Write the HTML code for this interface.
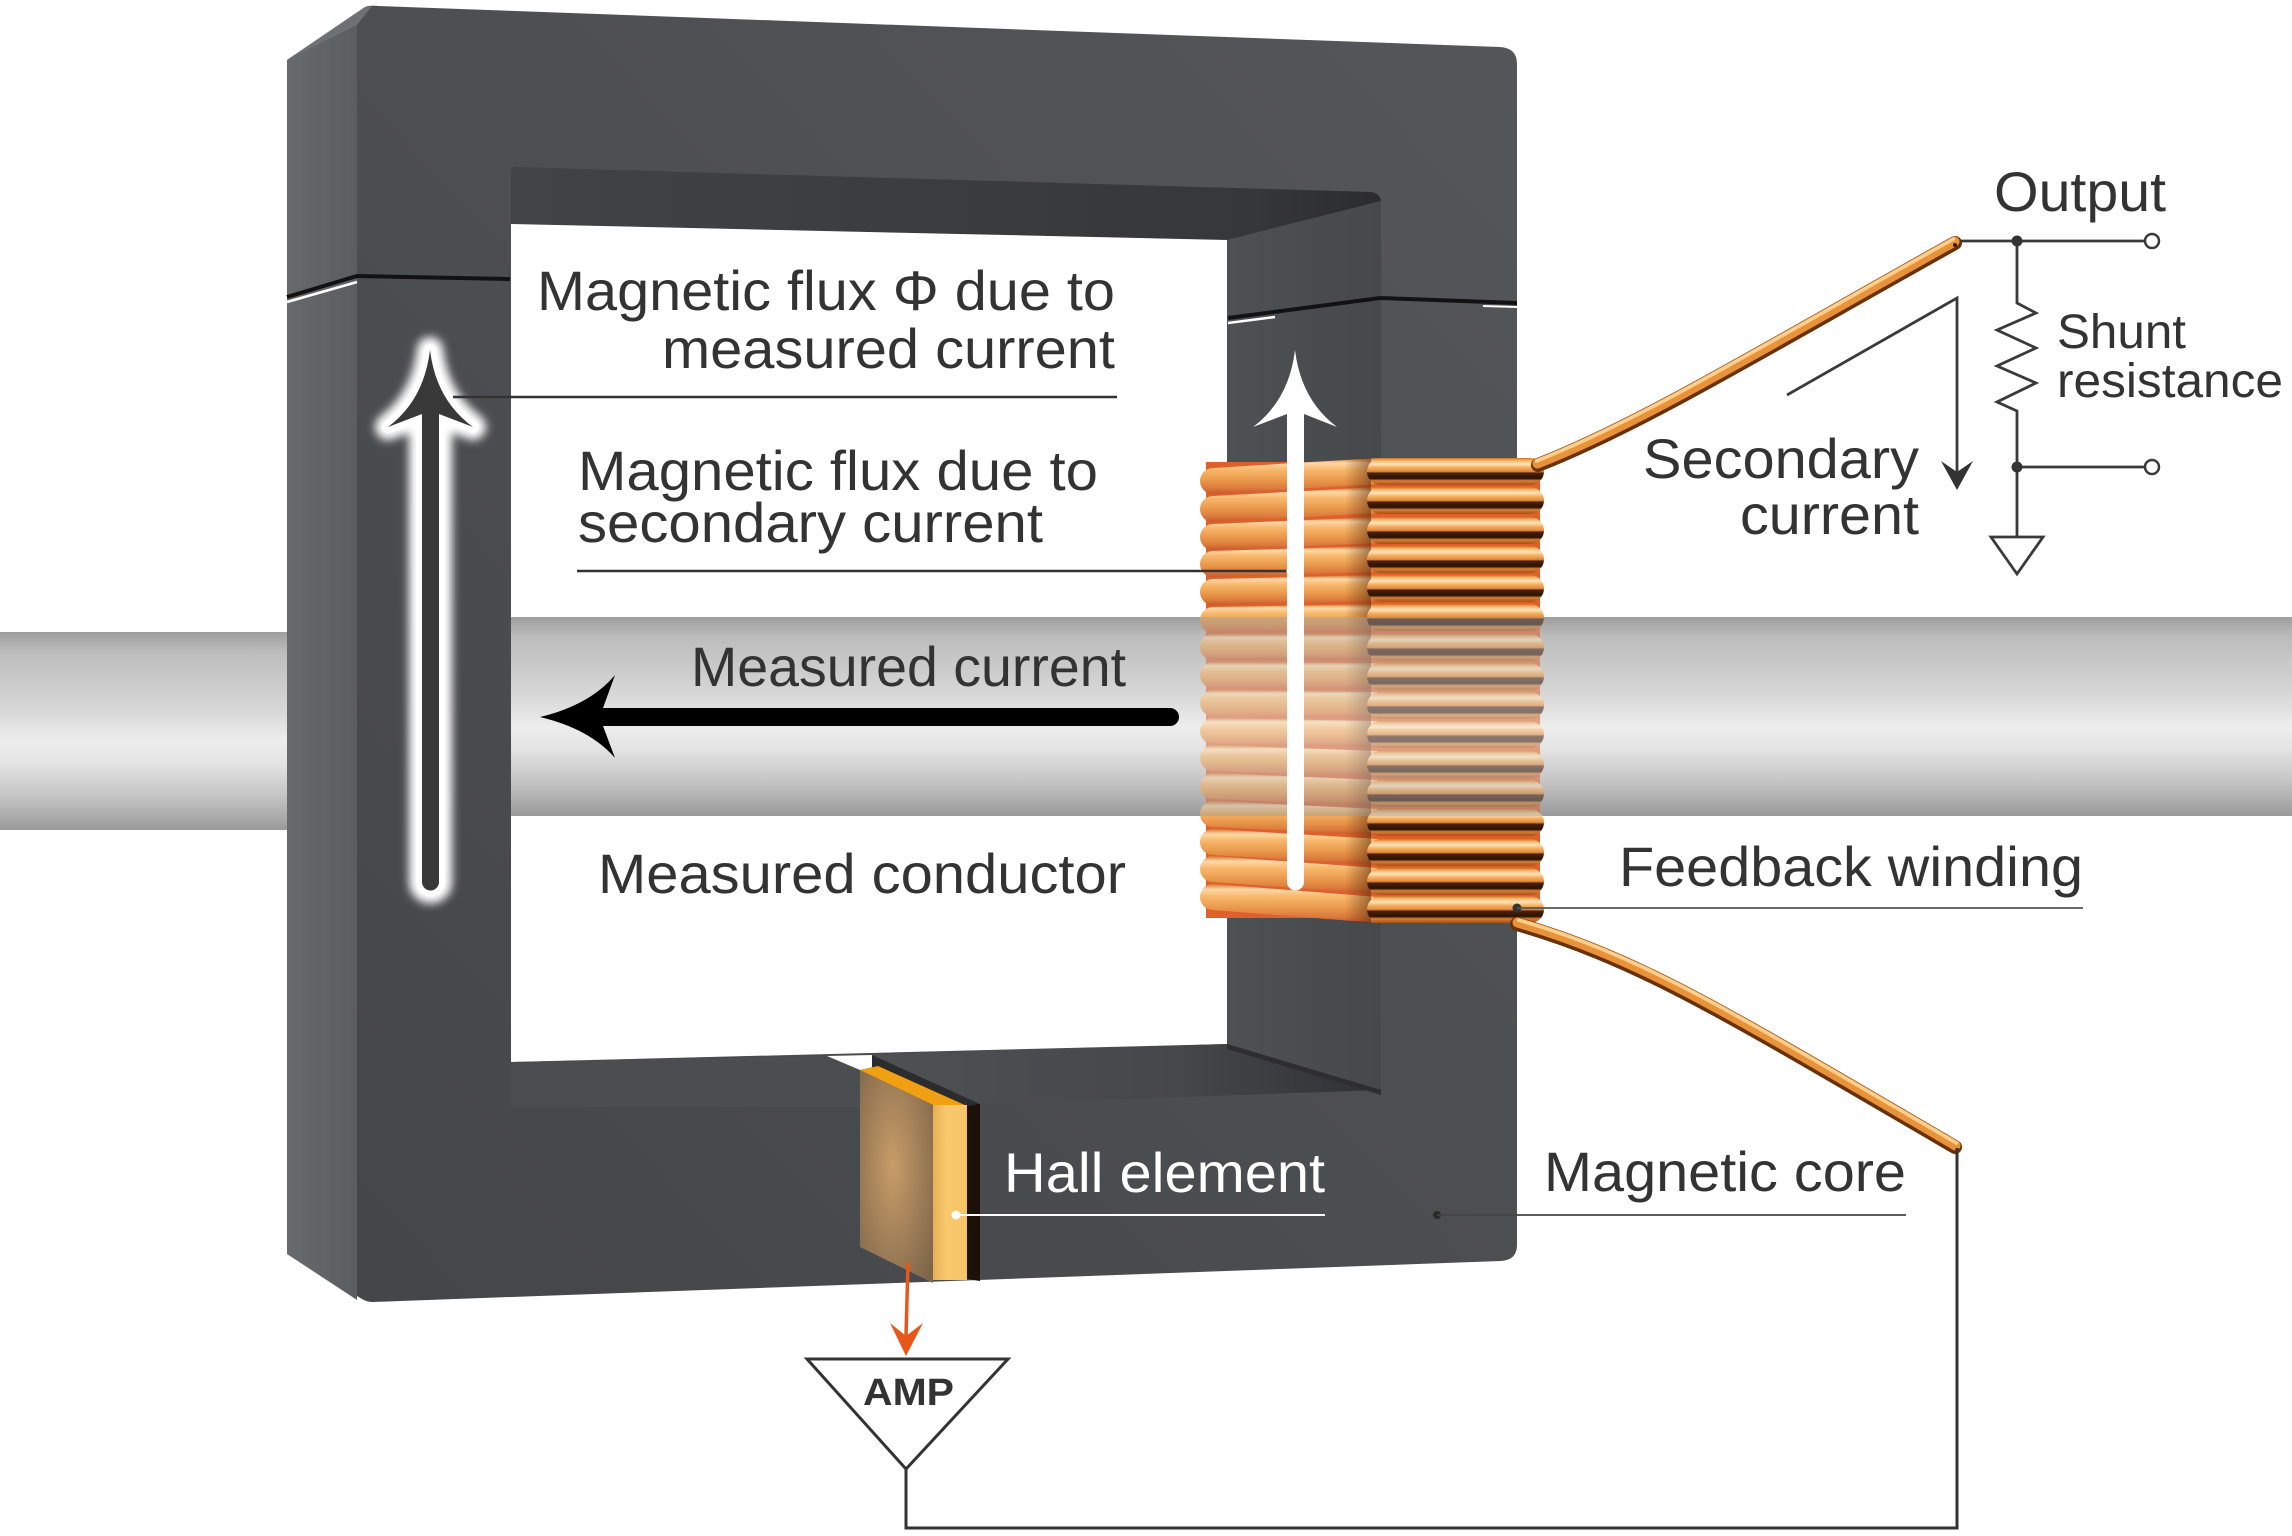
<!DOCTYPE html>
<html>
<head>
<meta charset="utf-8">
<style>
html,body{margin:0;padding:0;background:#fff;}
svg{display:block;}
text{font-family:"Liberation Sans",Arial,sans-serif;fill:#333;}
</style>
</head>
<body>
<svg width="2292" height="1536" viewBox="0 0 2292 1536" xmlns="http://www.w3.org/2000/svg">
<defs>
  <linearGradient id="gC" x1="0" y1="0" x2="0" y2="1">
    <stop offset="0" stop-color="#9e9e9e"/>
    <stop offset="0.1" stop-color="#bcbcbc"/>
    <stop offset="0.4" stop-color="#d8d8d8"/>
    <stop offset="0.55" stop-color="#ededed"/>
    <stop offset="0.66" stop-color="#e4e4e4"/>
    <stop offset="0.82" stop-color="#c6c6c6"/>
    <stop offset="1" stop-color="#9a9a9a"/>
  </linearGradient>
  <linearGradient id="gCore" x1="1" y1="0" x2="0" y2="1">
    <stop offset="0" stop-color="#54575a"/>
    <stop offset="1" stop-color="#434648"/>
  </linearGradient>
  <linearGradient id="gSide" x1="0" y1="0" x2="1" y2="0">
    <stop offset="0" stop-color="#666a6c"/>
    <stop offset="1" stop-color="#5a5e60"/>
  </linearGradient>
  <linearGradient id="gUnder" x1="0" y1="0" x2="1" y2="0">
    <stop offset="0" stop-color="#404446"/>
    <stop offset="0.85" stop-color="#35383a"/>
    <stop offset="1" stop-color="#2a2c2e"/>
  </linearGradient>
  <linearGradient id="gInner" x1="0" y1="0" x2="1" y2="0">
    <stop offset="0" stop-color="#4d5153"/>
    <stop offset="1" stop-color="#45494b"/>
  </linearGradient>
  <linearGradient id="gBot" x1="0" y1="0" x2="1" y2="0">
    <stop offset="0" stop-color="#4e5153"/>
    <stop offset="0.6" stop-color="#45484a"/>
    <stop offset="1" stop-color="#2f3234"/>
  </linearGradient>
  <linearGradient id="gR" x1="0" y1="0" x2="0" y2="1">
    <stop offset="0" stop-color="#cf7424"/>
    <stop offset="0.1" stop-color="#f8b86e"/>
    <stop offset="0.22" stop-color="#ffe4ba"/>
    <stop offset="0.36" stop-color="#f4ac5e"/>
    <stop offset="0.5" stop-color="#e48a3a"/>
    <stop offset="0.56" stop-color="#4a200a"/>
    <stop offset="0.76" stop-color="#2a1206"/>
    <stop offset="0.84" stop-color="#d88034"/>
    <stop offset="1" stop-color="#a84e14"/>
  </linearGradient>
  <linearGradient id="gL" x1="0" y1="0" x2="0" y2="1">
    <stop offset="0" stop-color="#d07a2a"/>
    <stop offset="0.14" stop-color="#ffd8a8"/>
    <stop offset="0.32" stop-color="#f8b86c"/>
    <stop offset="0.6" stop-color="#ea9a4c"/>
    <stop offset="0.84" stop-color="#dc7a3c"/>
    <stop offset="1" stop-color="#c8582a"/>
  </linearGradient>
  <linearGradient id="gJ" x1="0" y1="0" x2="1" y2="0">
    <stop offset="0" stop-color="#5a2a0a" stop-opacity="0"/>
    <stop offset="1" stop-color="#5a2a0a" stop-opacity="0.55"/>
  </linearGradient>
  <radialGradient id="gHall" cx="0.45" cy="0.45" r="0.7">
    <stop offset="0" stop-color="#c89c68"/>
    <stop offset="1" stop-color="#7e664a"/>
  </radialGradient>
  <linearGradient id="gHallSide" x1="0" y1="0" x2="1" y2="0">
    <stop offset="0" stop-color="#e8b055"/>
    <stop offset="0.4" stop-color="#f8c86e"/>
    <stop offset="1" stop-color="#f6c468"/>
  </linearGradient>
  <filter id="blur" x="-1" y="-1" width="3" height="3">
    <feGaussianBlur stdDeviation="4.5"/>
  </filter>
  <rect id="tr" x="1367" y="0" width="177" height="27" rx="13.5" fill="url(#gR)"/>
</defs>

<rect x="0" y="0" width="2292" height="1536" fill="#fff"/>

<!-- conductor left part -->
<rect x="0" y="632" width="290" height="198" fill="url(#gC)"/>

<!-- core silhouette -->
<path d="M287,60 L365,7 Q370,5 378,6 L1500,47 Q1517,48 1517,64 L1517,1245 Q1517,1260 1501,1261 L373,1302 Q367,1302 362,1299 L287,1254 Z" fill="url(#gCore)"/>
<path d="M287,60 L357,25 L357,1300 L287,1254 Z" fill="url(#gSide)"/>
<path d="M287,60 L365,7 L372,6 L357,25 Z" fill="#6d7173"/>

<!-- inner opening -->
<path d="M515,167 L1372,192 Q1380,194 1381,201 L1227,240 L511,224 L511,171 Q511,167 515,167 Z" fill="url(#gUnder)"/>
<path d="M1227,240 L1381,201 L1381,1090 L1227,1044 Z" fill="url(#gInner)"/>
<path d="M511,224 L1227,240 L1227,1044 L511,1062 Z" fill="#fff"/>
<path d="M511,1062 L827,1056 L860,1070 L860,1107 L511,1107 Z" fill="#4b4e50"/>
<path d="M872,1055 L1227,1044 L1381,1090 L980,1104 Z" fill="url(#gBot)"/>
<path d="M1227,1044 L1381,1090 L1381,1095 L1227,1049 Z" fill="#2c2e30"/>
<path d="M827,1056 L872,1055 L878,1066 L860,1070 Z" fill="#fff"/>
<path d="M872,1055 L980,1104 L980,1281 L872,1245 Z" fill="#2a2c2e"/>

<!-- gap lines -->
<path d="M287,297 L357,276 L510,279" stroke="#121212" stroke-width="4" fill="none"/>
<path d="M287,302 L357,282" stroke="#fff" stroke-width="2.5" fill="none"/>
<path d="M1228,318 L1380,298 L1517,303" stroke="#121212" stroke-width="4" fill="none"/>
<path d="M1228,323 L1275,317" stroke="#fff" stroke-width="2.5" fill="none"/>
<path d="M1483,306 L1517,307" stroke="#fff" stroke-width="2" fill="none"/>

<!-- conductor middle + right -->
<rect x="511" y="617" width="1781" height="199" fill="url(#gC)"/>

<!-- Hall element -->
<path d="M860,1070 L933,1105 L933,1283 L860,1247 Z" fill="url(#gHall)"/>
<path d="M860,1070 L878,1066 L967,1106 L933,1105 Z" fill="#f0a012"/>
<rect x="933" y="1105" width="34" height="175" fill="url(#gHallSide)"/>
<path d="M967,1106 L980,1104 L980,1281 L967,1279 Z" fill="#1c1108"/>

<!-- winding -->
<rect x="1206" y="462" width="334" height="456" fill="#e0602c"/>
<g fill="url(#gL)">
  <path d="M1378,458 L1213,468 A13,13 0 0 0 1213,494 L1378,484 Z"/>
  <path d="M1378,487 L1213,496 A13,13 0 0 0 1213,522 L1378,513 Z"/>
  <path d="M1378,517 L1213,524 A13,13 0 0 0 1213,550 L1378,543 Z"/>
  <path d="M1378,546 L1213,551 A13,13 0 0 0 1213,577 L1378,572 Z"/>
  <path d="M1378,575 L1213,579 A13,13 0 0 0 1213,605 L1378,601 Z"/>
  <path d="M1378,604 L1213,607 A13,13 0 0 0 1213,633 L1378,630 Z"/>
  <path d="M1378,634 L1213,634 A13,13 0 0 0 1213,660 L1378,660 Z"/>
  <path d="M1378,663 L1213,662 A13,13 0 0 0 1213,688 L1378,689 Z"/>
  <path d="M1378,692 L1213,690 A13,13 0 0 0 1213,716 L1378,718 Z"/>
  <path d="M1378,721 L1213,718 A13,13 0 0 0 1213,744 L1378,747 Z"/>
  <path d="M1378,751 L1213,745 A13,13 0 0 0 1213,771 L1378,777 Z"/>
  <path d="M1378,780 L1213,773 A13,13 0 0 0 1213,799 L1378,806 Z"/>
  <path d="M1378,809 L1213,801 A13,13 0 0 0 1213,827 L1378,835 Z"/>
  <path d="M1378,839 L1213,829 A13,13 0 0 0 1213,855 L1378,865 Z"/>
  <path d="M1378,868 L1213,856 A13,13 0 0 0 1213,882 L1378,894 Z"/>
  <path d="M1378,897 L1213,884 A13,13 0 0 0 1213,910 L1378,923 Z"/>
</g>
<rect x="1345" y="458" width="26" height="465" fill="url(#gJ)"/>
<use href="#tr" y="458"/>
<use href="#tr" y="487"/>
<use href="#tr" y="517"/>
<use href="#tr" y="546"/>
<use href="#tr" y="575"/>
<use href="#tr" y="604"/>
<use href="#tr" y="634"/>
<use href="#tr" y="663"/>
<use href="#tr" y="692"/>
<use href="#tr" y="721"/>
<use href="#tr" y="751"/>
<use href="#tr" y="780"/>
<use href="#tr" y="809"/>
<use href="#tr" y="839"/>
<use href="#tr" y="868"/>
<use href="#tr" y="896"/>
<rect x="1199" y="617" width="347" height="199" fill="url(#gC)" opacity="0.45"/>

<!-- wires -->
<g fill="none" stroke-linecap="round" stroke-linejoin="round">
  <path d="M1538,465 C1640,425 1760,352 1955,243" stroke="#6a3008" stroke-width="14"/>
  <path d="M1538,465 C1640,425 1760,352 1955,243" stroke="#e8923a" stroke-width="10" transform="translate(-0.5,-1.5)"/>
  <path d="M1538,465 C1640,425 1760,352 1955,243" stroke="#ffcf8e" stroke-width="3.5" transform="translate(-1.5,-4)"/>
  <path d="M1517,924 C1640,960 1720,1010 1955,1147" stroke="#6a3008" stroke-width="14"/>
  <path d="M1517,924 C1640,960 1720,1010 1955,1147" stroke="#e8923a" stroke-width="10" transform="translate(0.5,-1.5)"/>
  <path d="M1517,924 C1640,960 1720,1010 1955,1147" stroke="#ffcf8e" stroke-width="3.5" transform="translate(1.5,-4)"/>
</g>
<circle cx="1955" cy="245" r="2" fill="#3a1a08"/>

<!-- left flux arrow with glow -->
<g>
  <path d="M430,350 Q436,400 473,427 L439,414 L439,882 A8.5,8.5 0 0 1 422,882 L422,414 L388,427 Q424,400 430,350 Z" fill="#fff" stroke="#fff" stroke-width="26" stroke-linejoin="round" filter="url(#blur)"/>
  <path d="M430,350 Q436,400 473,427 L439,414 L439,882 A8.5,8.5 0 0 1 422,882 L422,414 L388,427 Q424,400 430,350 Z" fill="#fff" stroke="#fff" stroke-width="12" stroke-linejoin="round"/>
  <path d="M430,350 Q436,400 473,427 L439,414 L439,882 A8.5,8.5 0 0 1 422,882 L422,414 L388,427 Q424,400 430,350 Z" fill="#383838"/>
</g>

<!-- white secondary flux arrow -->
<path d="M1295,350 Q1301,400 1337,427 L1304,414 L1304,882 A8.5,8.5 0 0 1 1287,882 L1287,414 L1253,427 Q1289,400 1295,350 Z" fill="#fff"/>

<!-- measured current arrow -->
<path d="M540,717 Q590,705 615,675 L603,708 L1170,708 A9,9 0 0 1 1170,726 L603,726 L615,758 Q590,729 540,717 Z" fill="#000"/>

<!-- leader lines -->
<line x1="453" y1="397" x2="1117" y2="397" stroke="#333" stroke-width="2.5"/>
<line x1="577" y1="571" x2="1286" y2="571" stroke="#333" stroke-width="2.5"/>
<circle cx="1517" cy="908" r="4.5" fill="#333"/>
<line x1="1517" y1="908" x2="2083" y2="908" stroke="#555" stroke-width="1.8"/>
<circle cx="1437" cy="1215" r="4" fill="#2a2a2a"/>
<line x1="1437" y1="1215" x2="1906" y2="1215" stroke="#444" stroke-width="1.8"/>
<circle cx="956" cy="1215" r="4.5" fill="#fff"/>
<line x1="956" y1="1215" x2="1325" y2="1215" stroke="#fff" stroke-width="2"/>

<!-- AMP circuit -->
<line x1="908" y1="1262" x2="906" y2="1336" stroke="#e8561a" stroke-width="3.5"/>
<path d="M906,1356 L890,1323 L906,1336 L923,1323 Z" fill="#e8561a"/>
<path d="M807,1359 L1008,1359 L906,1469 Z" fill="none" stroke="#333" stroke-width="3"/>
<path d="M906,1469 L906,1528 L1957,1528 L1957,1148" fill="none" stroke="#333" stroke-width="3"/>

<!-- output circuit -->
<g fill="none" stroke="#3a3a3a" stroke-width="2.8" stroke-linejoin="miter">
  <path d="M1960,241 L2145,241"/>
  <path d="M2017,241 L2017,303 L2036,313 L1997,330 L2036,348 L1997,366 L2036,383 L1997,402 L2017,411 L2017,537"/>
  <path d="M2017,467 L2145,467"/>
  <path d="M1991,537 L2043,537 L2017,574 Z"/>
  <path d="M1787,395 L1957,298 L1957,472"/>
</g>
<circle cx="2152" cy="241" r="7" fill="#fff" stroke="#3a3a3a" stroke-width="2.5"/>
<circle cx="2152" cy="467" r="7" fill="#fff" stroke="#3a3a3a" stroke-width="2.5"/>
<circle cx="2017" cy="241" r="5.5" fill="#333"/>
<circle cx="2017" cy="467" r="5.5" fill="#333"/>
<path d="M1957,490 L1941,461 L1957,472 L1973,461 Z" fill="#333"/>

<!-- labels -->
<g font-size="56">
  <text x="537" y="310" textLength="578" lengthAdjust="spacingAndGlyphs">Magnetic flux Φ due to</text>
  <text x="662" y="368" textLength="453" lengthAdjust="spacingAndGlyphs">measured current</text>
  <text x="578" y="490" textLength="520" lengthAdjust="spacingAndGlyphs">Magnetic flux due to</text>
  <text x="578" y="542" textLength="465" lengthAdjust="spacingAndGlyphs">secondary current</text>
  <text x="691" y="686" textLength="435" lengthAdjust="spacingAndGlyphs">Measured current</text>
  <text x="598" y="893" textLength="528" lengthAdjust="spacingAndGlyphs">Measured conductor</text>
  <text x="1004" y="1192" textLength="321" lengthAdjust="spacingAndGlyphs" style="fill:#fff">Hall element</text>
  <text x="1544" y="1191" textLength="362" lengthAdjust="spacingAndGlyphs">Magnetic core</text>
  <text x="1619" y="886" textLength="464" lengthAdjust="spacingAndGlyphs">Feedback winding</text>
  <text x="1643" y="478" textLength="276" lengthAdjust="spacingAndGlyphs">Secondary</text>
  <text x="1740" y="534" textLength="179" lengthAdjust="spacingAndGlyphs">current</text>
  <text x="1994" y="211" textLength="172" lengthAdjust="spacingAndGlyphs">Output</text>
</g>
<text x="2057" y="348" font-size="48" textLength="129" lengthAdjust="spacingAndGlyphs">Shunt</text>
<text x="2057" y="397" font-size="48" textLength="226" lengthAdjust="spacingAndGlyphs">resistance</text>
<text x="863" y="1405" font-size="38" font-weight="bold" textLength="91" lengthAdjust="spacingAndGlyphs">AMP</text>
</svg>
</body>
</html>
